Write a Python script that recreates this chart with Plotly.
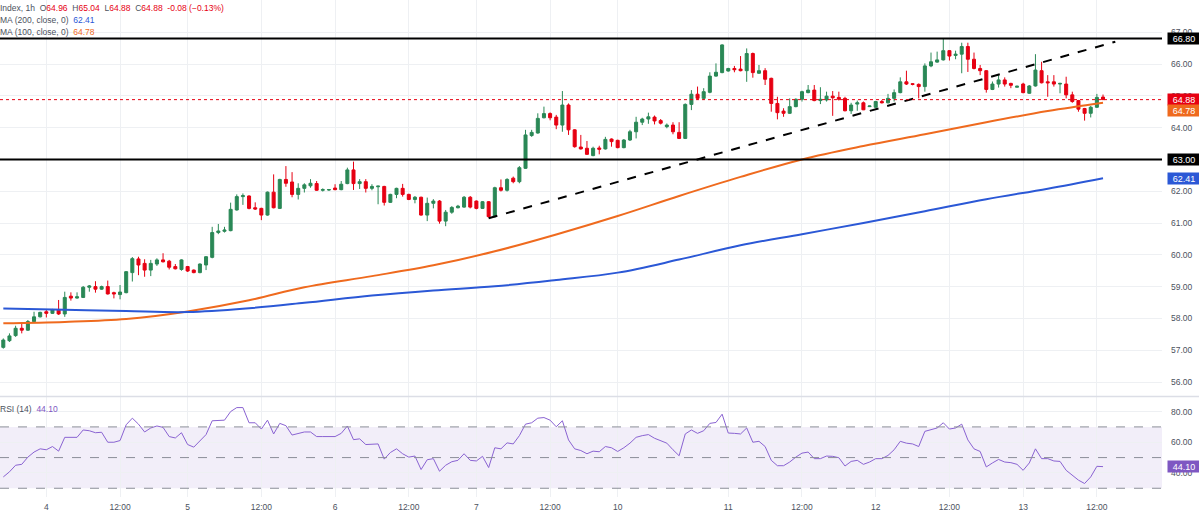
import plotly.graph_objects as go

# ---- data (hourly candles, index 0..179) ------------------------------------
opens = [57.09, 57.30, 57.46, 57.69, 57.63, 57.90, 58.05, 58.21, 58.16, 58.26,
         58.14, 58.70, 58.64, 58.66, 58.98, 59.00, 58.92, 59.00, 58.81, 58.75,
         58.81, 59.44, 59.87, 59.73, 59.52, 59.71, 59.84, 59.80, 59.63, 59.54,
         59.63, 59.52, 59.44, 59.68, 59.92, 60.70, 60.74, 60.76, 61.41, 61.83,
         61.85, 61.48, 61.46, 61.25, 61.97, 61.46, 62.37, 62.29, 61.90, 62.09,
         62.17, 62.24, 62.03, 62.04, 62.10, 62.05, 62.24, 62.67, 62.24, 62.30,
         62.09, 62.14, 62.15, 61.65, 61.90, 62.09, 61.90, 61.74, 61.81, 61.25,
         61.62, 61.69, 61.06, 61.34, 61.48, 61.50, 61.81, 61.69, 61.46, 61.67,
         61.20, 62.11, 62.03, 62.41, 62.30, 62.72, 63.75, 63.83, 64.31, 64.44,
         64.33, 64.08, 64.71, 63.93, 63.39, 63.35, 63.12, 63.36, 63.33, 63.64,
         63.60, 63.37, 63.61, 63.87, 64.17, 64.27, 64.33, 64.22, 64.03, 64.08,
         63.85, 63.66, 64.73, 65.05, 64.92, 65.11, 65.62, 65.73, 65.78, 65.86,
         65.84, 65.79, 66.33, 65.71, 65.79, 65.55, 64.76, 64.52, 64.45, 64.66,
         64.89, 65.10, 65.18, 64.85, 64.87, 64.99, 64.95, 64.92, 64.53, 64.74,
         64.78, 64.66, 64.64, 64.82, 64.78, 64.92, 65.10, 65.44, 65.38, 65.36,
         65.29, 65.94, 66.06, 66.13, 66.42, 66.27, 66.31, 66.55, 66.15, 65.86,
         65.79, 65.20, 65.37, 65.50, 65.39, 65.27, 65.37, 65.08, 65.31, 65.79,
         65.44, 65.44, 65.37, 65.37, 65.03, 64.85, 64.60, 64.45, 64.64, 64.96]
highs = [57.37, 57.53, 57.77, 57.84, 57.95, 58.21, 58.21, 58.28, 58.30, 58.58,
         58.84, 58.82, 58.82, 59.02, 59.05, 59.17, 59.03, 59.19, 58.84, 59.05,
         59.49, 59.93, 59.94, 59.86, 59.84, 59.89, 60.05, 59.84, 59.71, 59.86,
         59.65, 59.54, 59.73, 59.96, 60.88, 60.97, 60.88, 61.64, 61.90, 61.93,
         61.87, 61.65, 61.48, 61.99, 62.53, 62.39, 62.79, 62.60, 62.25, 62.25,
         62.38, 62.32, 62.09, 62.07, 62.22, 62.32, 62.74, 62.93, 62.38, 62.38,
         62.22, 62.17, 62.17, 61.92, 62.11, 62.23, 61.92, 61.85, 61.83, 61.80,
         61.75, 61.72, 61.41, 61.53, 61.57, 61.85, 61.85, 61.71, 61.69, 61.69,
         62.14, 62.37, 62.41, 62.46, 62.79, 63.93, 63.93, 64.45, 64.66, 64.48,
         64.40, 65.15, 64.76, 63.95, 63.77, 63.58, 63.40, 63.43, 63.71, 63.66,
         63.62, 63.64, 63.93, 64.34, 64.31, 64.47, 64.38, 64.27, 64.13, 64.17,
         64.17, 64.76, 65.18, 65.29, 65.24, 65.74, 66.02, 66.62, 65.88, 65.94,
         66.25, 66.49, 66.36, 65.97, 65.87, 65.57, 64.97, 64.61, 64.92, 64.92,
         65.16, 65.34, 65.34, 65.27, 65.13, 65.15, 65.13, 64.97, 64.78, 64.85,
         64.82, 64.69, 64.84, 64.87, 65.06, 65.20, 65.58, 65.79, 65.40, 65.39,
         66.02, 66.36, 66.39, 66.81, 66.44, 66.42, 66.67, 66.67, 66.36, 65.97,
         65.81, 65.45, 65.65, 65.58, 65.41, 65.32, 65.41, 65.34, 66.31, 66.07,
         65.65, 65.65, 65.41, 65.60, 65.13, 64.87, 64.62, 64.68, 65.06, 65.04]
lows = [57.05, 57.26, 57.42, 57.53, 57.61, 57.87, 58.03, 58.03, 58.14, 58.11,
        58.05, 58.56, 58.62, 58.64, 58.84, 58.81, 58.90, 58.75, 58.63, 58.60,
        58.79, 59.16, 59.36, 59.31, 59.33, 59.65, 59.76, 59.54, 59.54, 59.50,
        59.46, 59.42, 59.42, 59.52, 59.89, 60.65, 60.70, 60.74, 61.39, 61.57,
        61.43, 61.41, 61.09, 61.23, 61.46, 61.44, 62.14, 61.81, 61.74, 61.96,
        62.11, 62.01, 61.99, 62.01, 62.03, 62.03, 62.22, 62.04, 62.07, 61.96,
        62.03, 61.59, 61.55, 61.63, 61.78, 61.83, 61.72, 61.62, 61.23, 61.06,
        61.46, 60.98, 60.90, 61.29, 61.46, 61.48, 61.46, 61.43, 61.44, 61.17,
        61.17, 61.99, 61.99, 62.25, 62.25, 62.70, 63.71, 63.81, 64.29, 64.23,
        63.95, 63.87, 63.77, 63.37, 63.31, 63.14, 63.10, 63.16, 63.31, 63.40,
        63.35, 63.35, 63.58, 63.66, 64.08, 64.12, 64.10, 64.10, 63.98, 63.79,
        63.64, 63.64, 64.55, 64.87, 64.87, 65.08, 65.60, 65.71, 65.76, 65.74,
        65.77, 65.44, 65.57, 65.69, 65.34, 64.50, 64.26, 64.34, 64.43, 64.64,
        64.82, 65.08, 64.83, 64.74, 64.82, 64.37, 64.85, 64.51, 64.43, 64.53,
        64.55, 64.65, 64.61, 64.76, 64.76, 64.82, 65.08, 65.34, 65.33, 64.92,
        65.13, 65.90, 66.04, 66.11, 66.11, 66.15, 65.71, 65.75, 65.83, 65.65,
        65.10, 65.18, 65.26, 65.29, 65.24, 65.26, 65.08, 65.06, 65.29, 65.39,
        64.97, 65.29, 65.08, 64.92, 64.78, 64.50, 64.22, 64.32, 64.62, 64.88]
closes = [57.32, 57.45, 57.69, 57.63, 57.90, 58.05, 58.19, 58.16, 58.28, 58.14,
          58.66, 58.64, 58.68, 58.98, 59.02, 58.92, 59.00, 58.77, 58.77, 58.83,
          59.47, 59.88, 59.68, 59.52, 59.73, 59.84, 59.78, 59.61, 59.56, 59.84,
          59.49, 59.44, 59.71, 59.94, 60.70, 60.75, 60.78, 61.43, 61.83, 61.86,
          61.46, 61.44, 61.25, 61.97, 61.48, 62.37, 62.25, 61.90, 62.09, 62.20,
          62.25, 62.03, 62.05, 62.05, 62.05, 62.22, 62.67, 62.24, 62.30, 62.09,
          62.15, 62.16, 61.65, 61.90, 62.09, 61.90, 61.74, 61.81, 61.25, 61.62,
          61.69, 61.06, 61.34, 61.49, 61.53, 61.81, 61.50, 61.46, 61.67, 61.20,
          62.11, 62.03, 62.37, 62.30, 62.74, 63.77, 63.85, 64.29, 64.44, 64.31,
          64.08, 64.71, 63.93, 63.40, 63.33, 63.16, 63.35, 63.32, 63.63, 63.56,
          63.37, 63.61, 63.87, 64.17, 64.27, 64.34, 64.21, 64.14, 64.08, 63.87,
          63.66, 64.73, 65.05, 64.92, 65.13, 65.62, 65.74, 66.60, 65.86, 65.82,
          65.79, 66.33, 65.73, 65.79, 65.52, 64.76, 64.47, 64.45, 64.66, 64.89,
          65.13, 65.18, 64.85, 64.89, 64.99, 64.94, 64.89, 64.53, 64.71, 64.78,
          64.56, 64.68, 64.82, 64.78, 64.92, 65.10, 65.44, 65.37, 65.36, 65.29,
          65.94, 66.07, 66.13, 66.42, 66.25, 66.31, 66.55, 66.15, 65.86, 65.79,
          65.20, 65.37, 65.50, 65.37, 65.33, 65.30, 65.10, 65.31, 65.81, 65.41,
          65.41, 65.37, 65.39, 65.03, 64.82, 64.58, 64.45, 64.64, 64.95, 64.88]

rsi = [37.4, 40.7, 45.0, 45.6, 50.3, 53.6, 55.7, 55.1, 57.2, 54.2,
       63.2, 63.2, 63.2, 68.0, 67.5, 66.2, 66.5, 60.0, 60.0, 61.1,
       71.4, 75.7, 71.8, 66.7, 69.3, 70.6, 69.7, 63.7, 62.8, 66.2,
       58.5, 56.8, 61.1, 65.0, 74.0, 74.4, 74.4, 80.0, 82.6, 82.6,
       72.7, 72.7, 68.6, 74.4, 65.4, 72.3, 70.8, 64.7, 65.8, 66.7,
       66.7, 63.7, 63.7, 63.7, 63.7, 65.8, 70.6, 61.7, 62.2, 58.5,
       58.9, 58.9, 49.0, 53.3, 55.7, 52.5, 50.3, 51.0, 42.2, 48.6,
       49.3, 41.1, 45.0, 47.3, 48.2, 52.5, 48.2, 47.8, 50.8, 43.5,
       56.4, 55.7, 59.6, 58.9, 64.3, 71.8, 72.7, 75.7, 76.1, 74.4,
       70.1, 74.0, 61.5, 55.7, 54.6, 52.5, 54.2, 53.8, 57.2, 56.4,
       54.0, 56.4, 59.4, 63.2, 64.3, 65.0, 62.6, 61.1, 59.4, 55.1,
       51.2, 65.4, 68.0, 65.8, 67.5, 72.3, 72.9, 78.3, 66.0, 65.8,
       65.4, 69.3, 60.0, 60.6, 57.2, 48.2, 44.7, 44.7, 47.1, 50.3,
       52.9, 53.6, 49.3, 49.3, 51.0, 50.8, 49.9, 44.5, 47.5, 48.2,
       45.6, 47.1, 49.3, 49.3, 51.4, 55.1, 60.6, 59.4, 58.9, 57.2,
       67.1, 68.2, 69.3, 72.7, 68.6, 69.3, 71.8, 61.5, 55.7, 54.0,
       43.9, 46.5, 48.8, 47.1, 46.7, 45.6, 41.7, 46.5, 55.7, 49.3,
       49.3, 47.8, 47.5, 41.7, 38.5, 35.3, 33.1, 37.4, 44.3, 44.1]

# moving averages, read at every ~10th candle
ma_idx = [0, 10, 20, 30, 40, 49, 60, 70, 80, 90, 100, 110, 120, 130, 140, 150, 160, 170, 179]
ma200 = [58.31, 58.27, 58.23, 58.20, 58.32, 58.49, 58.72, 58.88, 59.01, 59.21,
         59.44, 59.85, 60.30, 60.65, 61.00, 61.37, 61.75, 62.08, 62.41]
ma100 = [57.85, 57.89, 57.98, 58.22, 58.57, 58.98, 59.33, 59.67, 60.11, 60.64,
         61.22, 61.85, 62.45, 63.00, 63.42, 63.79, 64.17, 64.52, 64.78]

levels = [66.80, 63.00]
trend_x = [79, 181]
trend_y = [61.15, 66.70]

tick_idx = [7, 19, 30, 42, 54, 66, 77, 89, 100, 118, 130, 142, 154, 166, 178]
tick_txt = ["4", "12:00", "5", "12:00", "6", "12:00", "7", "12:00",
            "10", "11", "12:00", "12", "12:00", "13", "12:00"]
price_ticks = list(range(56, 69))
rsi_ticks = [40, 60, 80]
rsi_bands = [70, 50, 30]

GREEN = "#2a8856"
RED = "#e60012"
ORANGE = "#ef6a1e"
BLUE = "#2b58d6"
PURPLE = "#7e57c2"
GRID = "#eef0f3"
TXT = "#4c525e"
FONT = "Liberation Sans, Arial, sans-serif"

idx = list(range(len(closes)))

fig = go.Figure()
fig.add_trace(go.Candlestick(
    x=idx, open=opens, high=highs, low=lows, close=closes,
    increasing=dict(line=dict(color=GREEN, width=1), fillcolor=GREEN),
    decreasing=dict(line=dict(color=RED, width=1), fillcolor=RED),
    whiskerwidth=0, yaxis="y", showlegend=False))
fig.add_trace(go.Scatter(x=ma_idx, y=ma100, mode="lines", line=dict(color=ORANGE, width=2, shape="spline"),
                         yaxis="y", showlegend=False))
fig.add_trace(go.Scatter(x=ma_idx, y=ma200, mode="lines", line=dict(color=BLUE, width=2, shape="spline"),
                         yaxis="y", showlegend=False))
fig.add_trace(go.Scatter(x=trend_x, y=trend_y, mode="lines", line=dict(color="black", width=2, dash="dash"),
                         yaxis="y", showlegend=False))
fig.add_trace(go.Scatter(x=idx, y=rsi, mode="lines", line=dict(color="#8a63d2", width=1),
                         yaxis="y2", showlegend=False))

shapes = []
for lv in levels:
    shapes.append(dict(type="line", xref="paper", x0=0, x1=1, yref="y", y0=lv, y1=lv,
                       line=dict(color="black", width=2)))
shapes.append(dict(type="line", xref="paper", x0=0, x1=1, yref="y", y0=closes[-1], y1=closes[-1],
                   line=dict(color=RED, width=1, dash="dot")))
shapes.append(dict(type="rect", xref="paper", x0=0, x1=1, yref="y2", y0=rsi_bands[2], y1=rsi_bands[0],
                   fillcolor="rgba(126,87,194,0.10)", line=dict(width=0), layer="below"))
for b in rsi_bands:
    shapes.append(dict(type="line", xref="paper", x0=0, x1=1, yref="y2", y0=b, y1=b,
                       line=dict(color="#8b8e98", width=1, dash="dash")))
shapes.append(dict(type="line", xref="paper", x0=0, x1=1.04, yref="paper", y0=0.2022, y1=0.2022,
                   line=dict(color="#dcdee6", width=1.5)))

annotations = []
# right-axis value boxes: (value, axis, colour, shift)
boxes = [(levels[0], "y", "black", 0), (closes[-1], "y", RED, 0), (ma100[-1], "y", ORANGE, -8),
         (levels[1], "y", "black", 0), (ma200[-1], "y", BLUE, 0), (rsi[-1], "y2", PURPLE, 0)]
for val, ax, col, sh in boxes:
    annotations.append(dict(xref="paper", x=1, xanchor="left", xshift=5, yref=ax, y=val, yshift=sh,
                            text=f"{val:.2f}", showarrow=False, bgcolor=col, width=32, height=11,
                            borderpad=0, font=dict(color="white", size=9, family=FONT)))

hdr = (f"<span style='color:{TXT}'>Index, 1h  O</span><span style='color:{RED}'>{opens[-1]:.2f}</span>"
       f"<span style='color:{TXT}'>  H</span><span style='color:{RED}'>{highs[-1]:.2f}</span>"
       f"<span style='color:{TXT}'>  L</span><span style='color:{RED}'>{lows[-1]:.2f}</span>"
       f"<span style='color:{TXT}'>  C</span><span style='color:{RED}'>{closes[-1]:.2f}  -0.08 (−0.13%)</span>")
legend_lines = [hdr,
                f"<span style='color:{TXT}'>MA (200, close, 0)  </span><span style='color:{BLUE}'>{ma200[-1]:.2f}</span>",
                f"<span style='color:{TXT}'>MA (100, close, 0)  </span><span style='color:{ORANGE}'>{ma100[-1]:.2f}</span>"]
for k, t in enumerate(legend_lines):
    annotations.append(dict(xref="paper", yref="paper", x=0, y=1, xanchor="left", yanchor="top",
                            xshift=-2, yshift=-1 - 12 * k, text=t, showarrow=False,
                            font=dict(size=8.5, family=FONT)))
annotations.append(dict(xref="paper", yref="paper", x=0, y=0.2022, xanchor="left", yanchor="top",
                        xshift=-2, yshift=-5, showarrow=False,
                        text=f"<span style='color:{TXT}'>RSI (14)  </span><span style='color:{PURPLE}'>{rsi[-1]:.2f}</span>",
                        font=dict(size=8.5, family=FONT)))

# the 63.00 level box covers that tick label completely, so leave it blank
price_labels = ["" if v == levels[1] else f"{v:.2f}" for v in price_ticks]

fig.update_layout(
    width=1199, height=512, margin=dict(l=0, r=37, t=0, b=15),
    paper_bgcolor="white", plot_bgcolor="white",
    font=dict(family=FONT, size=9, color=TXT),
    xaxis=dict(range=[-0.54, 188.6], anchor="y2", domain=[0, 1], tickvals=tick_idx, ticktext=tick_txt,
               showgrid=True, gridcolor=GRID, zeroline=False, showline=False, ticks="",
               ticklabelstandoff=3, rangeslider=dict(visible=False), tickfont=dict(size=8.5)),
    yaxis=dict(domain=[0.2032, 1], range=[55.56, 68.013], side="right", anchor="x",
               tickvals=price_ticks, ticktext=price_labels, ticklabelstandoff=8,
               showgrid=True, gridcolor=GRID, zeroline=False, ticks="", tickfont=dict(size=8.5)),
    yaxis2=dict(domain=[0, 0.2012], range=[24.3, 89.5], side="right", anchor="x",
                tickvals=rsi_ticks, ticktext=[f"{v:.2f}" for v in rsi_ticks], ticklabelstandoff=8,
                showgrid=True, gridcolor=GRID, zeroline=False, ticks="", tickfont=dict(size=8.5)),
    shapes=shapes, annotations=annotations, showlegend=False, hovermode=False,
)

# page body has a default 8px margin; drop it so the figure fills the window
fig.write_html("out.html", config={"displayModeBar": False},
               post_script="document.body.style.margin='0px';")
